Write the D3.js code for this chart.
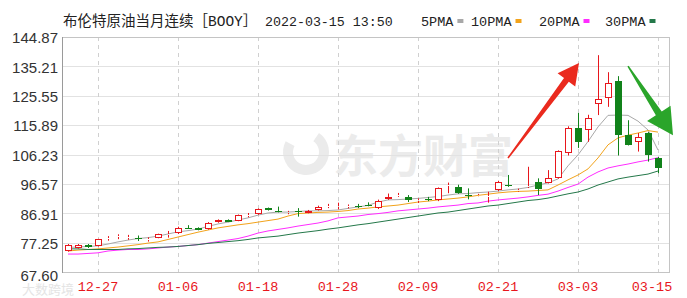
<!DOCTYPE html>
<html>
<head>
<meta charset="utf-8">
<script src="https://cdnjs.cloudflare.com/ajax/libs/d3/7.8.5/d3.min.js"></script>
<style>
    body { margin: 0; background: #fff; }
    svg { display: block; }
</style>
</head>
<body>
<div id="container"></div>
<script>
// trading days shown on the chart (2021-12-22 .. 2022-03-15)
var dates = ["12-22","12-23","12-24","12-27","12-28","12-29","12-30","12-31","01-03","01-04",
    "01-05","01-06","01-07","01-10","01-11","01-12","01-13","01-14","01-17","01-18",
    "01-19","01-20","01-21","01-24","01-25","01-26","01-27","01-28","01-31","02-01",
    "02-02","02-03","02-04","02-07","02-08","02-09","02-10","02-11","02-14","02-15",
    "02-16","02-17","02-18","02-21","02-22","02-23","02-24","02-25","02-28","03-01",
    "03-02","03-03","03-04","03-07","03-08","03-09","03-10","03-11","03-14","03-15"];

var openV = [74.6,75.6,76.5,76.3,78.6,79.1,78.9,78.8,78.2,78.9,
    79.9,80.3,82.2,82.1,81.8,84.0,84.7,84.5,86.2,86.6,
    88.6,87.6,87.0,87.5,87.1,88.0,89.2,89.2,89.0,89.4,
    89.7,88.6,91.5,92.8,92.4,91.2,91.6,91.3,96.1,95.6,
    93.0,92.8,92.3,94.6,96.3,94.5,95.5,97.3,96.8,98.6,
    106.6,114.9,114.4,122.8,124.8,130.3,112.8,110.5,113.4,105.2];
var highV = [76.8,76.8,76.8,78.5,79.4,80.0,79.8,79.6,79.0,80.2,
    81.1,82.5,83.0,82.3,84.0,84.9,84.9,86.5,87.0,88.5,
    88.8,89.1,87.7,88.6,88.0,89.4,90.0,90.4,89.8,90.0,
    90.5,91.4,93.4,93.6,92.9,91.8,92.3,95.4,97.0,96.3,
    95.1,93.3,94.0,97.6,99.5,95.0,102.2,98.4,101.1,107.6,
    115.5,119.9,119.3,138.9,133.3,132.0,117.5,113.3,113.6,105.5];
var lowV = [74.3,75.3,75.5,76.0,77.9,78.4,78.2,77.8,77.6,78.7,
    78.9,80.1,81.8,81.3,81.5,83.8,84.0,84.3,85.6,86.4,
    87.8,87.2,86.6,85.8,86.9,87.8,88.6,88.2,88.5,88.6,
    89.2,88.3,91.3,92.3,90.6,90.3,90.9,90.9,93.5,93.3,
    91.5,92.5,90.4,94.2,95.6,94.0,95.2,92.9,96.7,98.3,
    105.9,108.4,110.4,119.2,121.9,105.9,109.2,107.2,103.9,100.1];
var closeV = [76.5,76.5,75.7,78.3,78.8,79.3,79.1,78.6,78.4,80.0,
    80.1,82.2,81.9,81.5,83.7,84.7,84.2,86.3,86.4,88.2,
    88.0,87.3,87.2,87.3,87.8,88.9,89.4,89.4,89.2,89.2,
    89.5,91.1,92.4,93.0,91.3,91.4,91.4,95.1,96.3,93.5,
    92.8,93.0,92.5,97.3,96.0,94.7,95.8,94.9,98.5,107.4,
    114.9,110.5,118.2,124.4,129.7,112.5,109.4,112.0,106.1,101.9];

var ma5 = [75.7,75.8,76.0,76.2,76.8,77.5,78.1,78.6,78.9,79.4,
    80.1,80.8,81.2,81.7,82.6,83.4,84.0,84.7,85.4,86.3,
    87.0,87.3,87.3,87.5,87.7,87.7,87.8,88.0,88.5,89.0,
    89.5,90.6,91.3,91.4,91.6,91.8,92.1,92.4,92.9,93.3,
    93.4,93.7,93.9,94.2,94.6,94.9,95.4,96.2,96.9,98.2,
    102.5,106.1,110.5,115.3,119.1,119.2,119.1,117.2,114.3,107.7];
var ma10 = [74.5,74.8,75.0,75.2,75.5,75.8,76.2,76.6,77.1,77.5,
    78.3,79.1,79.9,80.7,81.4,82.1,82.6,83.1,83.5,84.0,
    84.5,85.0,86.0,86.8,87.0,87.2,87.3,87.5,87.8,88.3,
    88.6,89.0,89.3,89.6,90.1,90.6,90.9,91.3,91.6,91.9,
    92.3,92.8,93.2,93.6,93.9,94.1,94.2,94.4,94.6,96.2,
    97.9,99.5,101.5,105.1,109.4,111.7,112.6,113.3,114.1,113.6];
var ma20 = [73.5,73.5,73.7,73.9,74.5,74.8,75.0,75.0,75.2,75.5,
    75.8,76.0,76.3,76.6,77.1,77.6,78.1,78.6,79.4,80.4,
    81.1,81.6,82.1,82.7,83.2,83.7,84.4,85.4,85.7,86.0,
    86.5,86.8,87.2,87.7,88.0,88.3,88.6,89.0,89.3,89.6,
    90.1,90.3,90.9,91.3,91.6,91.9,92.3,92.8,93.2,94.2,
    95.4,96.5,98.8,100.5,101.8,102.5,103.1,103.8,104.4,105.2];
var ma30 = [75.2,75.2,75.0,75.0,75.0,75.0,75.2,75.3,75.5,75.7,
    75.8,76.0,76.3,76.6,77.0,77.3,77.6,77.9,78.3,78.8,
    79.1,79.4,79.9,80.4,80.8,81.2,81.7,82.1,82.6,83.1,
    83.5,84.0,84.5,85.0,85.5,86.0,86.5,87.0,87.3,87.8,
    88.3,88.8,89.3,89.6,90.1,90.6,91.1,91.4,91.9,92.6,
    93.3,93.9,94.9,96.2,97.2,98.2,98.8,99.3,99.8,100.8];

var yTicks = [67.60, 77.25, 86.91, 96.57, 106.23, 115.89, 125.55, 135.21, 144.87];
var xTickDates = ["12-27","01-06","01-18","01-28","02-09","02-21","03-03","03-15"];

var maNames = ["5PMA", "10PMA", "20PMA", "30PMA"];
var maColors = ["#a8a8a8", "#f2a31b", "#ff2cff", "#24784a"];

var width = 687, height = 298;
var plotL = 62, plotR = 669, plotT = 37, plotB = 272;
var upColor = "#e8161c", downColor = "#11821a";

var svg = d3.select("#container").append("svg")
    .attr("width", width)
    .attr("height", height);

var x = d3.scaleBand().domain(dates).range([plotL, 664]).paddingInner(0).paddingOuter(0.1);
var cx = function(d) { return x(d) + x.bandwidth() / 2; };
var xi = function(i) { return x(dates[0]) + x.step() * (i + 0.5); };   // fractional index
var y = d3.scaleLinear().domain([67.60, 144.87]).range([plotB, plotT]);

// watermark
var wm = svg.append("g").attr("fill", "#ebebeb");
wm.append("path")
    .attr("d", d3.arc()({innerRadius: 13, outerRadius: 23, startAngle: 0.6, endAngle: 5.2}))
    .attr("transform", "translate(306,152)");
wm.append("text")
    .attr("x", 333).attr("y", 173)
    .attr("font-family", "Noto Sans CJK SC")
    .attr("font-weight", "bold")
    .attr("font-size", 45)
    .text("东方财富");
svg.append("text")
    .attr("x", 22).attr("y", 294)
    .attr("font-family", "Noto Sans CJK SC")
    .attr("font-size", 13)
    .attr("fill", "#e4e4e4")
    .text("大数跨境");

// grid
svg.append("g").selectAll("line")
    .data(yTicks.slice(1, -1))
    .enter().append("line")
    .attr("x1", plotL).attr("x2", plotR)
    .attr("y1", function(d) { return Math.round(y(d)) + 0.5; })
    .attr("y2", function(d) { return Math.round(y(d)) + 0.5; })
    .attr("stroke", "#e2e2e2");

svg.append("g").selectAll("line")
    .data(xTickDates)
    .enter().append("line")
    .attr("x1", function(d) { return Math.round(cx(d)) + 0.5; })
    .attr("x2", function(d) { return Math.round(cx(d)) + 0.5; })
    .attr("y1", plotT).attr("y2", plotB)
    .attr("stroke", "#d0d0d0")
    .attr("stroke-dasharray", "4,4");

svg.append("rect")
    .attr("x", plotL + 0.5).attr("y", plotT + 0.5)
    .attr("width", plotR - plotL).attr("height", plotB - plotT)
    .attr("fill", "none")
    .attr("stroke", "#c4c4c4");
svg.append("line")
    .attr("x1", plotL + 0.5).attr("x2", plotL + 0.5)
    .attr("y1", plotT).attr("y2", plotB + 1)
    .attr("stroke", "#9a9a9a");

// y axis labels
var yAxis = d3.axisLeft(y)
    .tickValues(yTicks)
    .tickSize(0)
    .tickPadding(4)
    .tickFormat(d3.format(".2f"));
var ya = svg.append("g")
    .attr("transform", "translate(" + plotL + ",1)")
    .call(yAxis);
ya.select(".domain").remove();
ya.selectAll("text")
    .attr("font-family", "Liberation Sans, Arial, sans-serif")
    .attr("font-size", 15)
    .attr("fill", "#333");
ya.selectAll(".tick").filter(function(d) { return d === yTicks[0]; })
    .attr("transform", "translate(0," + (y(yTicks[0]) + 3) + ")");

// x axis labels
var xAxis = d3.axisBottom(x)
    .tickValues(xTickDates)
    .tickSize(0)
    .tickPadding(9);
var xa = svg.append("g")
    .attr("transform", "translate(0," + plotB + ")")
    .call(xAxis);
xa.select(".domain").remove();
xa.selectAll("text")
    .attr("font-family", "Liberation Mono, monospace")
    .attr("font-size", 13.5)
    .attr("fill", "#e8161c");
xa.selectAll(".tick").filter(function(d) { return d === "03-15"; })
    .select("text").attr("dx", -6);

// moving averages
var mas = [ma5, ma10, ma20, ma30];
mas.forEach(function(arr, k) {
    var line = d3.line()
        .x(function(d, i) { return cx(dates[i]); })
        .y(function(d) { return y(d); });
    svg.append("path")
        .datum(arr)
        .attr("fill", "none")
        .attr("stroke", maColors[k])
        .attr("stroke-width", 1)
        .attr("d", line);
});

// candles
var candles = dates.map(function(d, i) {
    return {date: d, o: openV[i], h: highV[i], l: lowV[i], c: closeV[i]};
});
var cg = svg.append("g").selectAll("g")
    .data(candles)
    .enter().append("g");

cg.each(function(d) {
    var g = d3.select(this);
    var up = d.c >= d.o;
    var col = up ? upColor : downColor;
    var px = Math.round(cx(d.date));
    var yTop = Math.round(y(Math.max(d.o, d.c)));
    var yBot = Math.round(y(Math.min(d.o, d.c)));
    if (yBot - yTop < 1) yBot = yTop + 1;
    g.append("line")
        .attr("x1", px + 0.5).attr("x2", px + 0.5)
        .attr("y1", y(d.h)).attr("y2", yTop)
        .attr("stroke", col);
    g.append("line")
        .attr("x1", px + 0.5).attr("x2", px + 0.5)
        .attr("y1", yBot).attr("y2", y(d.l))
        .attr("stroke", col);
    if (up) {
        g.append("rect")
            .attr("x", px - 3 + 0.5).attr("y", yTop + 0.5)
            .attr("width", 6).attr("height", Math.max(yBot - yTop - 1, 0))
            .attr("fill", "#fff")
            .attr("stroke", col);
    } else {
        g.append("rect")
            .attr("x", px - 3).attr("y", yTop)
            .attr("width", 7).attr("height", Math.max(yBot - yTop, 1))
            .attr("fill", col);
    }
});

// annotation arrows
function arrow(x0, y0, x1, y1, w0, w1, headLen, headW, color) {
    var dx = x1 - x0, dy = y1 - y0, len = Math.sqrt(dx * dx + dy * dy);
    var ux = dx / len, uy = dy / len, nx = -uy, ny = ux;
    var bx = x1 - ux * headLen, by = y1 - uy * headLen;
    var pts = [
        [x0 + nx * w0 / 2, y0 + ny * w0 / 2],
        [bx + nx * w1 / 2, by + ny * w1 / 2],
        [bx + nx * headW / 2, by + ny * headW / 2],
        [x1, y1],
        [bx - nx * headW / 2, by - ny * headW / 2],
        [bx - nx * w1 / 2, by - ny * w1 / 2],
        [x0 - nx * w0 / 2, y0 - ny * w0 / 2]
    ];
    svg.append("path")
        .attr("d", d3.line()(pts) + "Z")
        .attr("fill", color);
}
arrow(xi(44.0), y(105.1), xi(51.1), y(136.3), 1.5, 6, 21, 22, "#ea2a1e");
arrow(xi(56.0), y(135.3), xi(60.5), y(112.6), 1.5, 7, 26, 28, "#2aa52a");

// title and legend
var title = svg.append("text")
    .attr("x", 63).attr("y", 26)
    .attr("font-family", "Liberation Mono, Noto Sans CJK SC, monospace")
    .attr("font-size", 14.5)
    .attr("fill", "#222");
title.append("tspan").text("布伦特原油当月连续［BOOY］");
title.append("tspan").attr("x", 265).attr("font-size", 13.3).text("2022-03-15 13:50");

var legendX = [421, 471, 539, 605];
var lg = svg.append("g").selectAll("g")
    .data(maNames)
    .enter().append("g")
    .attr("transform", function(d, i) { return "translate(" + legendX[i] + ",26)"; });
lg.append("text")
    .attr("font-family", "Liberation Mono, monospace")
    .attr("font-size", 13.5)
    .attr("fill", "#222")
    .text(function(d) { return d; });
lg.append("rect")
    .attr("x", function(d) { return d.length * 8.1 + 4; })
    .attr("y", -7)
    .attr("width", 6).attr("height", 4)
    .attr("fill", function(d, i) { return maColors[i]; });
</script>
</body>
</html>
